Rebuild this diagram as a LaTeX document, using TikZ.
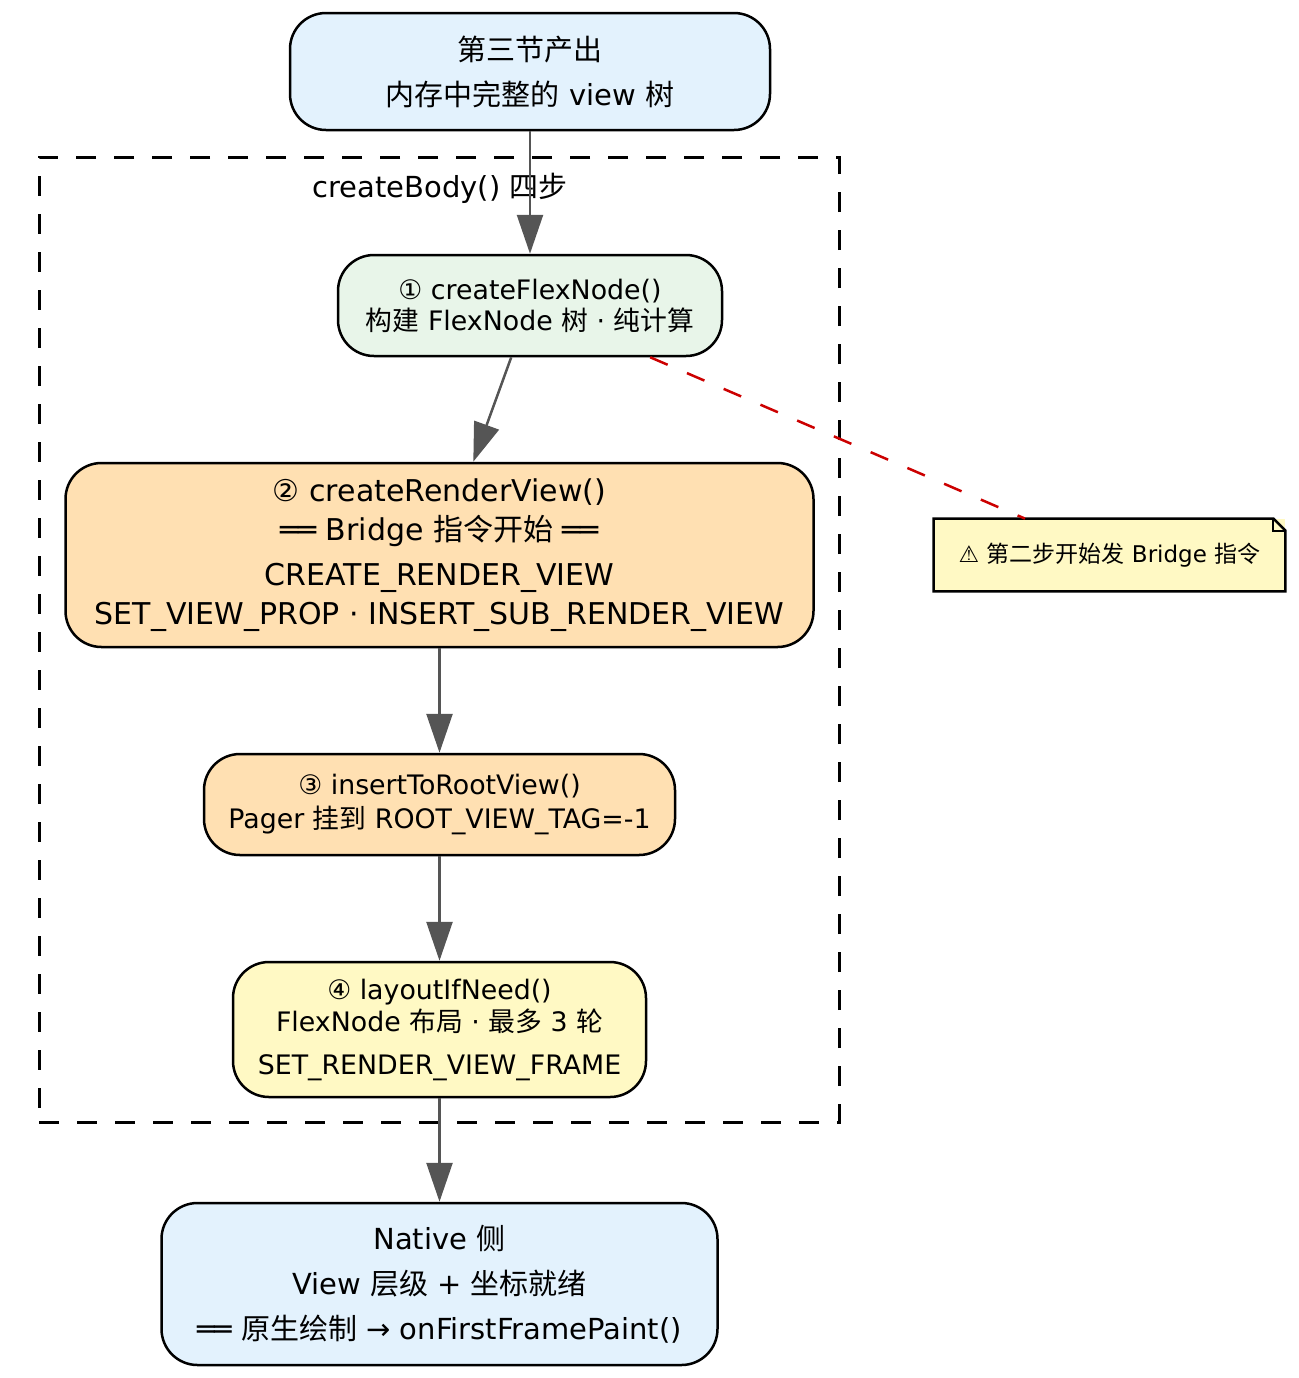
\documentclass[tikz,border=0pt]{standalone}
\usepackage{fontspec}
\setmainfont{DejaVu Sans}
\newfontfamily\cjk{Noto Sans CJK SC}
\usepackage{tikz}
\usetikzlibrary{arrows.meta, positioning}
\usepackage{xcolor}
\definecolor{cblue}{HTML}{E3F2FD}
\definecolor{cgreen}{HTML}{E8F5E9}
\definecolor{corange}{HTML}{FFE0B2}
\definecolor{cyellow}{HTML}{FFF9C4}
\definecolor{cgray}{HTML}{555555}
\definecolor{cred}{HTML}{CC0000}
\newcommand{\zh}[1]{{\cjk #1}}
\tikzset{
  stepbox/.style={draw=black, line width=1.25pt, rounded corners=18pt,
                  align=center, inner sep=0pt},
  iobox/.style={stepbox, fill=cblue, font=\fontsize{14.5}{22.5}\selectfont},
  arr/.style={-{Triangle[length=19.5pt, width=13pt]}, line width=1.25pt, cgray},
  hint/.style={dashed, dash pattern=on 9.5pt off 10.5pt, line width=1.25pt, cred},
}

\begin{document}
\begin{tikzpicture}[x=0.5pt, y=-0.5pt,
    cluster/.style={draw=black, line width=1.5pt, dash pattern=on 10pt off 9pt,
                    minimum width=400pt, minimum height=482.5pt, inner sep=0pt},
    notebox/.style={fill=cyellow, inner sep=0pt, minimum width=175.5pt,
                    minimum height=36pt, font=\fontsize{11.5}{14}\selectfont},
  ]
  \useasboundingbox (0,0) rectangle (1299,1378);

  % Rahmen um die vier Schritte
  \node[cluster] (body) at (439,639.5) {};
  \node[font=\fontsize{14.5}{18}\selectfont] (bodylbl) at (440,188)
    {createBody() \zh{四步}};

  % Eingang / Ausgang
  \node[iobox, minimum width=240pt, minimum height=58.5pt] (src) at (530,71.5)
    {\zh{第三节产出}\\\zh{内存中完整的} view \zh{树}};
  \node[iobox, minimum width=278pt, minimum height=81pt] (native) at (439.5,1284)
    {Native \zh{侧}\\View \zh{层级} + \zh{坐标就绪}\\══ \zh{原生绘制} → onFirstFramePaint()};

  % Die vier Schritte
  \node[stepbox, fill=cgreen, minimum width=192pt, minimum height=50.5pt,
        font=\fontsize{13.4}{15.5}\selectfont] (s1) at (530,305.5)
    {① createFlexNode()\\\zh{构建} FlexNode \zh{树} · \zh{纯计算}};
  \node[stepbox, fill=corange, minimum width=374pt, minimum height=92pt,
        font=\fontsize{15}{19.5}\selectfont] (s2) at (439.5,555)
    {② createRenderView()\\══ Bridge \zh{指令开始} ══\\[3pt]CREATE\_RENDER\_VIEW\\SET\_VIEW\_PROP · INSERT\_SUB\_RENDER\_VIEW};
  \node[stepbox, fill=corange, minimum width=235.5pt, minimum height=50.5pt,
        font=\fontsize{13.4}{17}\selectfont] (s3) at (439.5,804.5)
    {③ insertToRootView()\\Pager \zh{挂到} ROOT\_VIEW\_TAG=-1};
  \node[stepbox, fill=cyellow, minimum width=206.5pt, minimum height=67.5pt,
        font=\fontsize{13.4}{16}\selectfont] (s4) at (439.5,1029.5)
    {④ layoutIfNeed()\\FlexNode \zh{布局} · \zh{最多} 3 \zh{轮}\\[5.5pt]SET\_RENDER\_VIEW\_FRAME};

  % Hinweis rechts
  \node[notebox] (note) at (1109.5,555) {⚠ \zh{第二步开始发} Bridge \zh{指令}};
  \draw[line width=1.25pt] (note.north west) -- ([xshift=-6pt]note.north east)
    -- ([yshift=-6pt]note.north east) -- (note.south east) -- (note.south west) -- cycle;
  \draw[line width=1pt] ([xshift=-6pt]note.north east) |- ([yshift=-6pt]note.north east);

  % Verbindungen
  \draw[arr] (src) -- (s1);
  \draw[arr] (s1) -- (s2);
  \draw[arr] (s2) -- (s3);
  \draw[arr] (s3) -- (s4);
  \draw[arr] (s4) -- (native);
  \draw[hint] (s1) -- (note);
\end{tikzpicture}
\end{document}
